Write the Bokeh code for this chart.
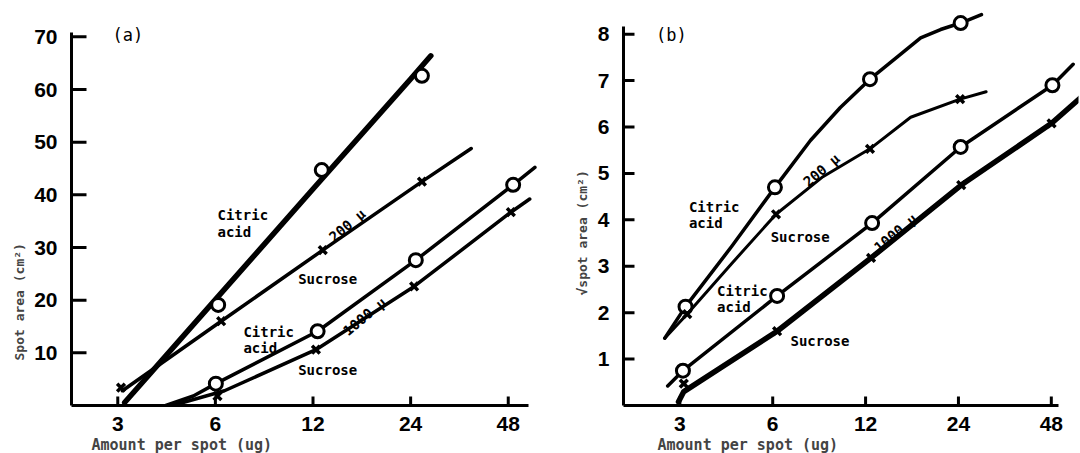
from bokeh.plotting import figure
from bokeh.layouts import row
from bokeh.models import FixedTicker, Title
from bokeh.core.properties import value
from bokeh.embed import file_html
from bokeh.resources import INLINE

# ---------------- data ----------------
x_ticks = [3, 6, 12, 24, 48]
x_tick_labels = ["3", "6", "12", "24", "48"]
a_y_ticks = [10, 20, 30, 40, 50, 60, 70]
b_y_ticks = [1, 2, 3, 4, 5, 6, 7, 8]

# Panel (a): spot area (cm^2)
a_cit200_line_x = [3.15, 6.0, 12.0, 24.0, 27.7]
a_cit200_line_y = [0.57, 20.1, 41.1, 62.0, 66.4]
a_cit200_pts_x = [6.12, 12.77, 26.0]
a_cit200_pts_y = [19.1, 44.7, 62.6]

a_suc200_line_x = [3.1, 6.25, 12.86, 26.0, 36.9]
a_suc200_line_y = [2.8, 16.0, 29.5, 42.5, 48.8]
a_suc200_pts_x = [3.07, 6.25, 12.86, 26.0]
a_suc200_pts_y = [3.4, 16.0, 29.5, 42.5]

a_cit1000_line_x = [4.22, 5.13, 6.02, 12.4, 24.9, 49.7, 58.0]
a_cit1000_line_y = [0.0, 1.8, 4.15, 14.1, 27.6, 41.9, 45.2]
a_cit1000_pts_x = [6.02, 12.4, 24.9, 49.7]
a_cit1000_pts_y = [4.15, 14.1, 27.6, 41.9]

a_suc1000_line_x = [4.43, 6.4, 12.25, 24.6, 48.9, 55.9]
a_suc1000_line_y = [0.0, 2.8, 10.6, 22.6, 36.7, 39.2]
a_suc1000_pts_x = [6.09, 12.25, 24.6, 48.9]
a_suc1000_pts_y = [1.8, 10.6, 22.6, 36.7]

# Panel (b): sqrt(spot area)
b_cit200_line_x = [2.68, 3.13, 4.42, 6.1, 7.95, 9.94, 12.4, 15.6, 18.1, 21.0, 24.4, 28.5]
b_cit200_line_y = [1.45, 2.13, 3.43, 4.70, 5.71, 6.42, 7.03, 7.57, 7.92, 8.10, 8.24, 8.42]
b_cit200_pts_x = [3.13, 6.1, 12.4, 24.4]
b_cit200_pts_y = [2.13, 4.70, 7.03, 8.24]

b_suc200_line_x = [2.68, 3.17, 4.42, 6.15, 8.73, 12.4, 16.8, 24.3, 29.5]
b_suc200_line_y = [1.45, 1.97, 3.06, 4.12, 4.93, 5.53, 6.21, 6.60, 6.76]
b_suc200_pts_x = [3.17, 6.15, 12.4, 24.3]
b_suc200_pts_y = [1.97, 4.12, 5.53, 6.60]

b_cit1000_line_x = [2.74, 3.07, 6.2, 12.6, 24.4, 48.4, 56.5]
b_cit1000_line_y = [0.42, 0.75, 2.36, 3.93, 5.57, 6.90, 7.35]
b_cit1000_pts_x = [3.07, 6.2, 12.6, 24.4, 48.4]
b_cit1000_pts_y = [0.75, 2.36, 3.93, 5.57, 6.90]

b_suc1000_line_x = [2.97, 3.09, 6.2, 12.5, 24.5, 48.1, 59.9]
b_suc1000_line_y = [0.08, 0.3, 1.6, 3.18, 4.75, 6.08, 6.64]
b_suc1000_pts_x = [3.09, 6.2, 12.5, 24.5, 48.1]
b_suc1000_pts_y = [0.47, 1.6, 3.18, 4.75, 6.08]

# text annotations (position in data units)
a_lbl_text = ["Citric", "acid", "Sucrose", "Citric", "acid", "Sucrose"]
a_lbl_x = [6.09, 6.09, 10.8, 7.32, 7.32, 10.8]
a_lbl_y = [36.1, 33.0, 24.0, 13.9, 10.9, 6.7]
a_rot_text = ["200 \u03bc", "1000 \u03bc"]
a_rot_x = [15.3, 17.3]
a_rot_y = [34.2, 16.9]

b_lbl_text = ["Citric", "acid", "Sucrose", "Citric", "acid", "Sucrose"]
b_lbl_x = [3.21, 3.21, 5.91, 3.96, 3.96, 6.85]
b_lbl_y = [4.28, 3.94, 3.63, 2.46, 2.13, 1.40]
b_rot_text = ["200 \u03bc", "1000 \u03bc"]
b_rot_x = [8.63, 15.0]
b_rot_y = [5.07, 3.72]

TICK_FONT = "Liberation Sans Narrow, Liberation Sans"
LBL_FONT = "DejaVu Sans Mono"


def base_fig(x_range, y_range, y_ticks, borders):
    l, r, t, b = borders
    p = figure(width=540, height=453, x_axis_type="log", x_range=x_range, y_range=y_range,
               output_backend="svg", toolbar_location=None,
               min_border_left=l, min_border_right=r, min_border_top=t, min_border_bottom=b)
    p.grid.visible = False
    p.outline_line_color = None
    p.background_fill_color = None
    p.border_fill_color = None
    for ax in (p.xaxis[0], p.yaxis[0]):
        ax.axis_line_width = 3
        ax.axis_line_color = "black"
        ax.major_tick_line_color = None
        ax.minor_tick_line_color = None
        ax.major_label_text_font = TICK_FONT
        ax.major_label_text_font_style = "bold"
        ax.major_label_text_color = "black"
    p.xaxis.ticker = FixedTicker(ticks=x_ticks, minor_ticks=[])
    p.xaxis.major_label_overrides = {t: s for t, s in zip(x_ticks, x_tick_labels)}
    p.xaxis.major_label_text_font_size = "21px"
    p.xaxis.major_label_standoff = 5
    p.yaxis.ticker = FixedTicker(ticks=y_ticks, minor_ticks=[])
    p.yaxis.major_label_text_font_size = "21px"
    p.yaxis.major_label_standoff = 8
    return p


def inner_ticks(p, x_lo, y_ticks, px_per_oct, px_per_unit, ylen_px, xlen_px):
    # tick marks pointing into the plot area, at the tick values above
    x_end = x_lo * 2 ** (ylen_px / px_per_oct)
    p.segment(x0=[x_lo] * len(y_ticks), y0=y_ticks, x1=[x_end] * len(y_ticks), y1=y_ticks,
              line_color="black", line_width=3)
    h = xlen_px / px_per_unit
    p.segment(x0=x_ticks, y0=[0] * len(x_ticks), x1=x_ticks, y1=[h] * len(x_ticks),
              line_color="black", line_width=3)


def draw_series(p, lx, ly, px, py, marker, lw):
    p.line(lx, ly, line_width=lw, line_color="black", line_cap="round", line_join="round")
    if marker == "circle":
        p.scatter(px, py, marker="circle", size=13, fill_color="white",
                  line_color="black", line_width=3)
    else:
        p.scatter(px, py, marker="x", size=11, line_color="black", line_width=3.5)


def add_labels(p, tx, x, y, rtx, rx, ry):
    p.text(x=x, y=y, text=tx, text_font=value(LBL_FONT), text_font_style="bold",
           text_font_size="14px", text_align="left", text_baseline="middle", text_color="black")
    p.text(x=rx, y=ry, text=rtx, text_font=value(LBL_FONT), text_font_style="bold",
           text_font_size="14px", text_align="center", text_baseline="middle",
           angle=40, angle_units="deg", text_color="black")


# ---------------- panel (a) ----------------
pa = base_fig((2.16, 59.5), (0, 75.0), a_y_ticks, (71, 2, 10, 45))
pa.xaxis.bounds = (2.16, 55.4)
pa.yaxis.bounds = (0, 70.9)
inner_ticks(pa, 2.16, a_y_ticks, 97.6, 5.304, 15, 9)
draw_series(pa, a_cit200_line_x, a_cit200_line_y, a_cit200_pts_x, a_cit200_pts_y, "circle", 5.5)
draw_series(pa, a_suc200_line_x, a_suc200_line_y, a_suc200_pts_x, a_suc200_pts_y, "x", 3.5)
draw_series(pa, a_cit1000_line_x, a_cit1000_line_y, a_cit1000_pts_x, a_cit1000_pts_y, "circle", 3.5)
draw_series(pa, a_suc1000_line_x, a_suc1000_line_y, a_suc1000_pts_x, a_suc1000_pts_y, "x", 3.5)
add_labels(pa, a_lbl_text, a_lbl_x, a_lbl_y, a_rot_text, a_rot_x, a_rot_y)
pa.text(x=[2.89], y=[70.3], text=["(a)"], text_font=value(LBL_FONT), text_font_size="17px",
        text_align="left", text_baseline="middle", text_color="black")
pa.add_layout(Title(text="Amount per spot (ug)", align="left", offset=20, standoff=0,
                    text_font=LBL_FONT, text_font_size="15px", text_font_style="bold"), "below")
pa.add_layout(Title(text="Spot area (cm\u00b2)", align="left", offset=45, standoff=10,
                    text_font=LBL_FONT, text_font_size="13px", text_font_style="bold"), "left")

# ---------------- panel (b) ----------------
pb = base_fig((1.97, 58.8), (0, 8.51), b_y_ticks, (83, 2, 10, 45))
pb.xaxis.bounds = (1.97, 50.6)
pb.yaxis.bounds = (0, 8.17)
inner_ticks(pb, 1.97, b_y_ticks, 92.9, 46.75, 11, 9)
draw_series(pb, b_cit200_line_x, b_cit200_line_y, b_cit200_pts_x, b_cit200_pts_y, "circle", 3.5)
draw_series(pb, b_suc200_line_x, b_suc200_line_y, b_suc200_pts_x, b_suc200_pts_y, "x", 3.0)
draw_series(pb, b_cit1000_line_x, b_cit1000_line_y, b_cit1000_pts_x, b_cit1000_pts_y, "circle", 3.5)
draw_series(pb, b_suc1000_line_x, b_suc1000_line_y, b_suc1000_pts_x, b_suc1000_pts_y, "x", 5.5)
add_labels(pb, b_lbl_text, b_lbl_x, b_lbl_y, b_rot_text, b_rot_x, b_rot_y)
pb.text(x=[2.51], y=[7.98], text=["(b)"], text_font=value(LBL_FONT), text_font_size="17px",
        text_align="left", text_baseline="middle", text_color="black")
pb.add_layout(Title(text="Amount per spot (ug)", align="left", offset=34, standoff=0,
                    text_font=LBL_FONT, text_font_size="15px", text_font_style="bold"), "below")
pb.add_layout(Title(text="\u221aspot area (cm\u00b2)", align="left", offset=110, standoff=10,
                    text_font=LBL_FONT, text_font_size="13px", text_font_style="bold"), "left")

layout = row(pa, pb)
open("out.html", "w").write(file_html(layout, INLINE))
